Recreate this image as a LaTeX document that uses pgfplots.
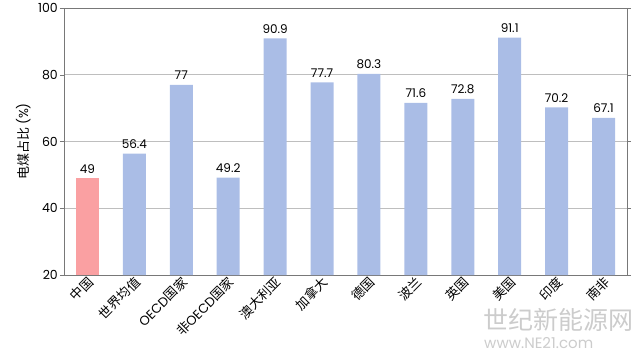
\documentclass[border=0pt]{standalone}
\usepackage{pgfplots}
\pgfplotsset{compat=1.18}
\usepackage{fontspec}
\setmainfont{Poppins}
\newfontfamily\cjk{Noto Sans CJK SC}
\definecolor{barblue}{RGB}{170,189,230}
\definecolor{barpink}{RGB}{250,160,162}
\definecolor{framegray}{RGB}{120,120,120}
\definecolor{gridgray}{RGB}{190,190,190}
\begin{document}
\begin{tikzpicture}
\useasboundingbox (-64bp,-86bp) rectangle (576bp,275bp);
\begin{axis}[
  at={(0,0)}, anchor=south west,
  scale only axis, width=563bp, height=267bp,
  xmin=-0.5, xmax=11.5, ymin=20, ymax=100,
  ytick={20,40,60,80,100},
  xtick={0,...,11},
  xticklabels={中国,世界均值,{\fontspec{Poppins}OECD}国家,非{\fontspec{Poppins}OECD}国家,澳大利亚,加拿大,德国,波兰,英国,美国,印度,南非},
  xticklabel style={font=\cjk\fontsize{13bp}{15bp}\selectfont, rotate=45, anchor=east, inner sep=1bp, xshift=3bp, yshift=-3bp},
  yticklabel style={font=\fontsize{12.5bp}{14bp}\selectfont, inner sep=2bp},
  /pgf/number format/assume math mode=true,
  ymajorgrids, grid style={gridgray, line width=0.6pt},
  axis line style={framegray, line width=0.7pt},
  major x tick style={draw=none},
  major y tick style={framegray},
  tick align=outside, major tick length=4bp,
  ylabel={\cjk 电煤占比 \fontspec{Poppins}(\%)},
  every axis y label/.style={at={(axis description cs:0,0.5)}, rotate=90, anchor=south, yshift=30bp, font=\fontsize{13bp}{15bp}\selectfont},
  ybar, bar width=23bp,
  nodes near coords,
  nodes near coords style={font=\fontsize{12bp}{14bp}\selectfont, /pgf/number format/assume math mode=true, text=black, inner sep=5bp},
  every axis plot/.append style={bar shift=0pt},
  clip=false,
]
\addplot[fill=barpink, draw=none] coordinates {(0,49)};
\addplot[fill=barblue, draw=none] coordinates {
(1,56.4) (2,77) (3,49.2) (4,90.9) (5,77.7) (6,80.3) (7,71.6) (8,72.8) (9,91.1) (10,70.2) (11,67.1)};
\end{axis}
\node[anchor=north west, inner sep=0, text=black!20, font=\cjk\fontsize{25bp}{27bp}\selectfont] at (419bp,-33bp) {世纪新能源网};
\node[anchor=north west, inner sep=0, text=black!20, font=\fontsize{15bp}{17bp}\selectfont] at (420bp,-62bp) {www.NE21.com};
\end{tikzpicture}
\end{document}
